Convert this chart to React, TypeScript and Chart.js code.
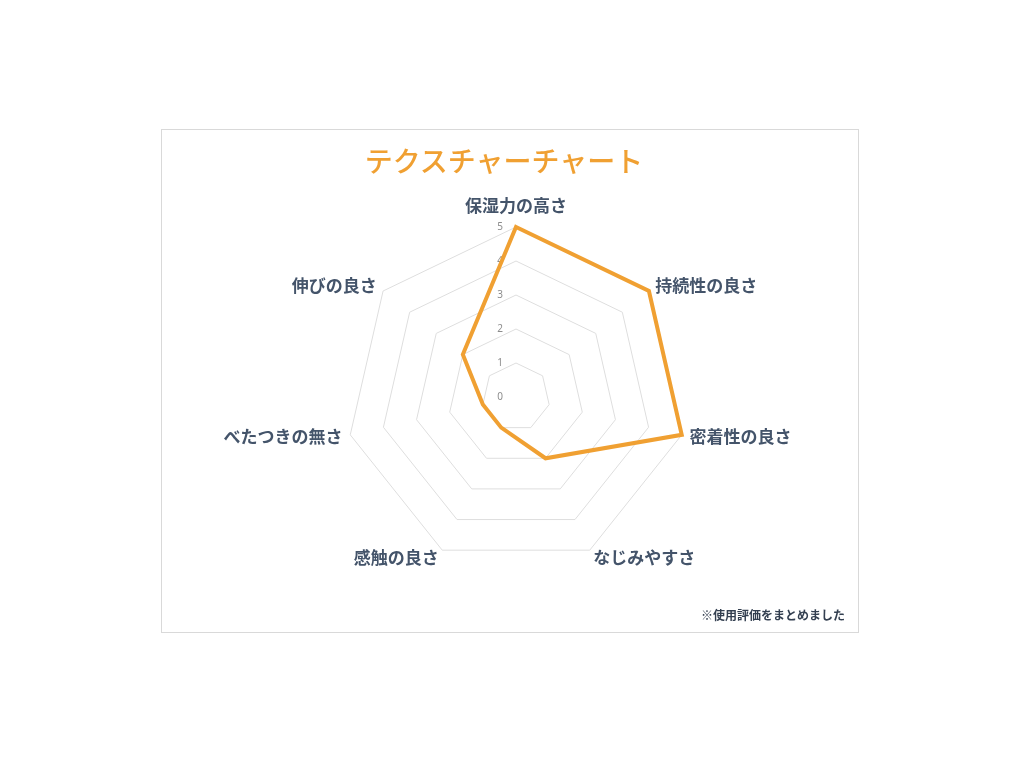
import React, { useEffect, useRef } from "react";
import { Chart, registerables } from "chart.js";

Chart.register(...registerables);

const CATEGORIES = [
  "保湿力の高さ",
  "持続性の良さ",
  "密着性の良さ",
  "なじみやすさ",
  "感触の良さ",
  "べたつきの無さ",
  "伸びの良さ",
];
const SCORES = [5, 5, 5, 2, 1, 1, 2];
const TICK_VALUES = [0, 1, 2, 3, 4, 5];
const TITLE = "テクスチャーチャート";
const NOTE = "※使用評価をまとめました";

const JP_FONT = "'Noto Sans CJK JP', 'Noto Sans', sans-serif";

const labelsPlugin = {
  id: "customRadarLabels",
  beforeDatasetsDraw(chart: any) {
    const scale = chart.scales.r;
    const ctx = chart.ctx;
    ctx.save();
    // tick labels, slightly left of the vertical axis
    ctx.font = "10px 'Noto Sans', sans-serif";
    ctx.fillStyle = "#8c8c8c";
    ctx.textAlign = "center";
    ctx.textBaseline = "middle";
    TICK_VALUES.forEach((v) => {
      const d = scale.getDistanceFromCenterForValue(v);
      ctx.fillText(String(v), scale.xCenter - 16, scale.yCenter - d);
    });
    // category labels
    ctx.font = "bold 17px " + JP_FONT;
    ctx.fillStyle = "#44546a";
    CATEGORIES.forEach((c, i) => {
      const angle = scale.getIndexAngle(i);
      const sin = Math.sin(angle);
      const isTop = Math.abs(sin) < 1e-6;
      const pos = scale.getPointPosition(i, scale.drawingArea + (isTop ? 13 : 8));
      ctx.textAlign = isTop ? "center" : sin > 0 ? "left" : "right";
      ctx.textBaseline = isTop ? "bottom" : "middle";
      ctx.fillText(c, pos.x, pos.y);
    });
    ctx.restore();
  },
};

export default function App() {
  const canvasRef = useRef<HTMLCanvasElement | null>(null);

  useEffect(() => {
    if (!canvasRef.current) return;
    const chart = new Chart(canvasRef.current, {
      type: "radar",
      data: {
        labels: CATEGORIES,
        datasets: [
          {
            data: SCORES,
            borderColor: "#f0a032",
            backgroundColor: "rgba(0,0,0,0)",
            borderWidth: 4,
            pointRadius: 0,
            pointHoverRadius: 0,
            fill: false,
            tension: 0,
          },
        ],
      },
      options: {
        animation: false,
        responsive: false,
        events: [],
        layout: { padding: { top: 97, bottom: 65, left: 54, right: 42 } },
        plugins: {
          legend: { display: false },
          tooltip: { enabled: false },
          title: { display: false },
        },
        scales: {
          r: {
            min: 0,
            max: 5,
            ticks: { display: false, stepSize: 1 },
            grid: { color: "#dedede", lineWidth: 1 },
            angleLines: { display: false },
            pointLabels: { display: false },
          },
        },
      },
      plugins: [labelsPlugin],
    });
    return () => chart.destroy();
  }, []);

  return (
    <div style={{ position: "relative", width: 1008, height: 740 }}>
      <div
        style={{
          position: "absolute",
          left: 153,
          top: 121,
          width: 698,
          height: 504,
          boxSizing: "border-box",
          border: "1px solid #d9d9d9",
          background: "#fff",
        }}
      >
        <canvas ref={canvasRef} width={696} height={502} style={{ display: "block", width: 696, height: 502 }} />
      </div>
      <div
        style={{
          position: "absolute",
          left: 296,
          top: 135,
          width: 400,
          textAlign: "center",
          fontFamily: JP_FONT,
          fontSize: 28,
          lineHeight: "34px",
          fontWeight: 500,
          color: "#f0a032",
        }}
      >
        {TITLE}
      </div>
      <div
        style={{
          position: "absolute",
          left: 592,
          top: 599,
          width: 245,
          textAlign: "right",
          fontFamily: JP_FONT,
          fontSize: 12,
          lineHeight: "16px",
          fontWeight: 700,
          color: "#333f50",
        }}
      >
        {NOTE}
      </div>
    </div>
  );
}
